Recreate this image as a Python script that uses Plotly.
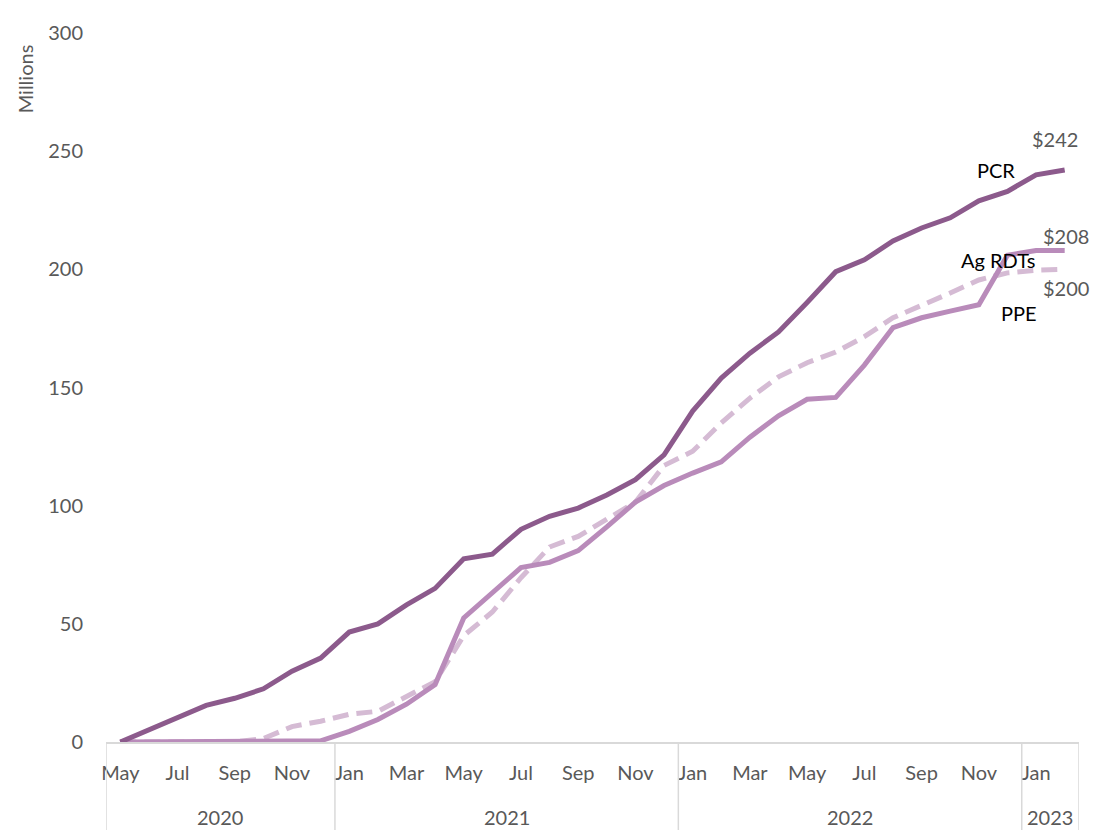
import plotly.graph_objects as go

months = ["May", "Jun", "Jul", "Aug", "Sep", "Oct", "Nov", "Dec",
          "Jan", "Feb", "Mar", "Apr", "May", "Jun", "Jul", "Aug", "Sep", "Oct", "Nov", "Dec",
          "Jan", "Feb", "Mar", "Apr", "May", "Jun", "Jul", "Aug", "Sep", "Oct", "Nov", "Dec",
          "Jan", "Feb"]
years = ["2020"] * 8 + ["2021"] * 12 + ["2022"] * 12 + ["2023"] * 2

pcr = [0, 5, 10.5, 15.5, 18.5, 22.5, 30, 35.5,
       46.5, 50, 58, 65, 77.5, 79.5, 90, 95.5, 99, 104.5, 111, 121.5,
       140, 154, 164.5, 173.5, 186, 199, 204, 212, 217.5, 221.8, 229, 233,
       240, 242]
ppe = [0, 0, 0, 0, 0, 0, 0, 0.5,
       4.5, 9.5, 16, 24.3, 52.5, 63, 73.8, 76, 81, 91, 101.5, 108.5,
       113.8, 118.5, 129, 138, 145, 145.8, 159.5, 175.3, 179.5, 182.3, 185, 206,
       208, 208]
ag_rdts = [0, 0, 0, 0, 0, 1.5, 6.5, 8.8,
           11.7, 13, 19, 25.5, 45, 55, 69.5, 82.5, 87, 94, 101.5, 117,
           123, 135, 145.5, 154.5, 160.5, 165, 171.5, 179.5, 184.5, 190, 195.5, 198.5,
           199.6, 200]

series = [("PCR", pcr, "#8C5A8C", "solid"),
          ("PPE", ppe, "#B98BBA", "solid"),
          ("Ag RDTs", ag_rdts, "#D5BBD4", "16px,8px")]

idx = list(range(len(months)))
FONT = "Lato, 'Open Sans', sans-serif"
GREY = "#595959"

fig = go.Figure()
for name, vals, col, dash in [series[2], series[1], series[0]]:
    fig.add_trace(go.Scatter(x=idx, y=vals, mode="lines", name=name,
                             line=dict(color=col, width=5, dash=dash),
                             showlegend=False, hoverinfo="x+y"))

tick_idx = idx[::2]
tick_txt = months[::2]

fig.update_layout(
    width=1083, height=822,
    margin=dict(l=98, r=12, t=17, b=88),
    paper_bgcolor="white", plot_bgcolor="white",
    font=dict(family=FONT, size=20, color=GREY),
    xaxis=dict(range=[-0.5, len(months) - 0.5], tickvals=tick_idx, ticktext=tick_txt,
               showgrid=False, zeroline=False, showline=True, linecolor="#D9D9D9",
               linewidth=1.5, ticks="", ticklabelstandoff=12,
               tickfont=dict(family=FONT, size=20, color=GREY)),
    yaxis=dict(range=[0, 300], tickvals=[0, 50, 100, 150, 200, 250, 300],
               showgrid=False, zeroline=False, showline=False, ticks="",
               ticklabelstandoff=22,
               tickfont=dict(family=FONT, size=20, color=GREY)),
)

# year group labels and dividers
groups = []
for i, y in enumerate(years):
    if not groups or groups[-1][0] != y:
        groups.append([y, i, i])
    else:
        groups[-1][2] = i
for y, a, b in groups:
    fig.add_annotation(x=(a + b) / 2, y=-0.106, xref="x", yref="paper", text=y,
                       yanchor="middle", xanchor="center",
                       showarrow=False, font=dict(family=FONT, size=20, color=GREY))
edges = [g[1] - 0.5 for g in groups] + [groups[-1][2] + 0.5]
for e in edges:
    fig.add_shape(type="line", x0=e, x1=e, y0=0, y1=-0.125, xref="x", yref="paper",
                  line=dict(color="#D9D9D9", width=1.5))

fig.add_annotation(x=-0.083, y=0.935, xref="paper", yref="paper", text="Millions",
                   textangle=-90, showarrow=False, xanchor="center", yanchor="middle",
                   font=dict(family=FONT, size=20, color=GREY))

labels = [
    ("$242", 32.65, 255, GREY, 0),
    ("PCR", 30.6, 242, "black", 0),
    ("$208", 33, 214, GREY, 1),
    ("Ag RDTs", 30.66, 204, "black", 0),
    ("$200", 33, 192, GREY, 1),
    ("PPE", 31.4, 181.5, "black", 0),
]
for t, x, y, c, sh in labels:
    fig.add_annotation(x=x, y=y, xref="x", yref="y", text=t, showarrow=False,
                       xanchor="center", yanchor="middle", xshift=sh,
                       font=dict(family=FONT, size=20, color=c))

fig.write_html("out.html")
